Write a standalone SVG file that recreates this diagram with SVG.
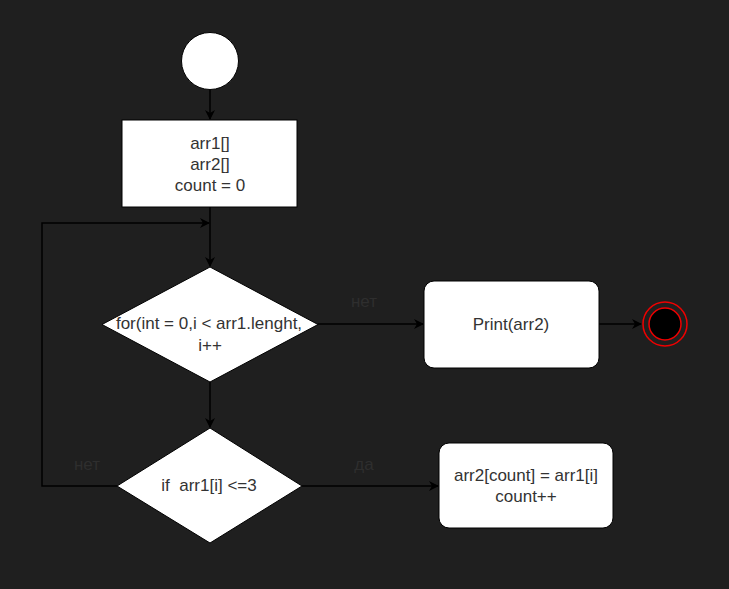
<svg xmlns="http://www.w3.org/2000/svg" width="729" height="589" viewBox="0 0 729 589">
<style>
.t{font-family:"Liberation Sans",Arial,sans-serif;font-size:17px;fill:#333;text-anchor:middle;dominant-baseline:central}
.lbl{font-family:"Liberation Sans",Arial,sans-serif;font-size:17px;fill:#2e2e2e;text-anchor:middle;dominant-baseline:central}
.e{fill:none;stroke:#000;stroke-width:1.5}
.n{fill:#fff;stroke:#000;stroke-width:1}
</style>
<defs>
<marker id="a" viewBox="0 0 10 10" refX="9" refY="5" markerWidth="10" markerHeight="10" markerUnits="userSpaceOnUse" orient="auto">
<path d="M0,0 L10,5 L0,10 L3,5 Z" fill="#000"/>
</marker>
</defs>
<rect width="729" height="589" fill="#1f1f1f"/>
<g id="connectors">
<line class="e" x1="210" y1="90" x2="210" y2="119" marker-end="url(#a)"/>
<line class="e" x1="210" y1="207" x2="210" y2="266" marker-end="url(#a)"/>
<polyline class="e" points="117,486 42,486 42,223 209,223" marker-end="url(#a)"/>
<line class="e" x1="210" y1="382" x2="210" y2="427" marker-end="url(#a)"/>
<line class="e" x1="318" y1="324" x2="423" y2="324" marker-end="url(#a)"/>
<line class="e" x1="599" y1="324" x2="641" y2="324" marker-end="url(#a)"/>
<line class="e" x1="302" y1="486" x2="438" y2="486" marker-end="url(#a)"/>
<text class="lbl" x="364" y="301">нет</text>
<text class="lbl" x="87" y="464">нет</text>
<text class="lbl" x="364" y="464">да</text>
</g>
<g id="start"><circle cx="210" cy="61" r="28.5" fill="#fff" stroke="#000"/></g>
<g id="init">
<rect class="n" x="122" y="120" width="175" height="87"/>
<text class="t" x="210" y="143">arr1[]</text>
<text class="t" x="210" y="164">arr2[]</text>
<text class="t" x="210" y="185">count = 0</text>
</g>
<g id="loop">
<polygon class="n" points="210,267 318,324.5 210,382 102,324.5"/>
<text class="t" x="209" y="323">for(int = 0,i &lt; arr1.lenght,</text>
<text class="t" x="210" y="345">i++</text>
</g>
<g id="cond">
<polygon class="n" points="210,428 302,486 210,543 117,486"/>
<text class="t" x="209" y="485" xml:space="preserve">if  arr1[i] &lt;=3</text>
</g>
<g id="print">
<rect class="n" x="424" y="281" width="175" height="87" rx="10"/>
<text class="t" x="511" y="324">Print(arr2)</text>
</g>
<g id="assign">
<rect class="n" x="439" y="443" width="174" height="85" rx="10"/>
<text class="t" x="526" y="475">arr2[count] = arr1[i]</text>
<text class="t" x="526" y="496">count++</text>
</g>
<g id="end">
<circle cx="665" cy="324" r="22" fill="none" stroke="#e00" stroke-width="1.5"/>
<circle cx="665" cy="324" r="16" fill="#000" stroke="#e00" stroke-width="1.5"/>
</g>
</svg>
